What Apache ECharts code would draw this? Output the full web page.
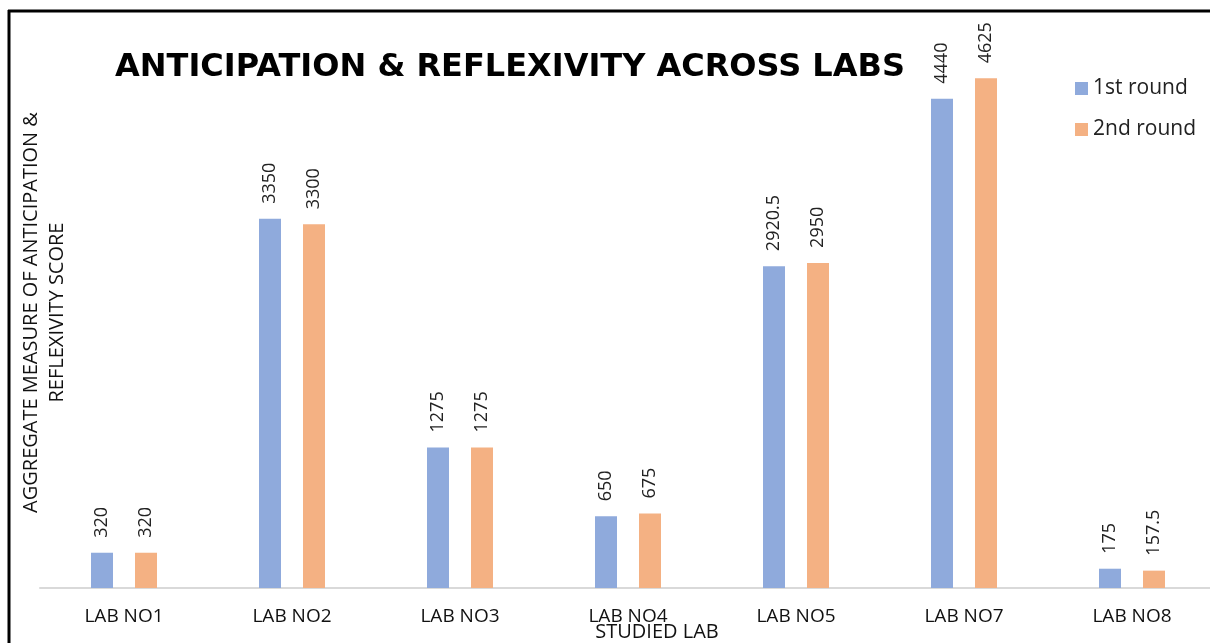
<!DOCTYPE html>
<html>
<head>
<meta charset="utf-8">
<script src="https://cdn.jsdelivr.net/npm/echarts@6/dist/echarts.min.js"></script>
<style>
  html, body { margin: 0; padding: 0; background: #fff; }
  #chart { width: 1210px; height: 643px; }
</style>
</head>
<body>
<div id="chart"></div>
<script>
  // data
  const labs = ['LAB NO1', 'LAB NO2', 'LAB NO3', 'LAB NO4', 'LAB NO5', 'LAB NO7', 'LAB NO8']
  const firstRound = [320, 3350, 1275, 650, 2920.5, 4440, 175]
  const secondRound = [320, 3300, 1275, 675, 2950, 4625, 157.5]
  const seriesNames = ['1st round', '2nd round']

  const font = '"Open Sans", "Noto Sans", sans-serif'
  const chart = echarts.init(document.getElementById('chart'))

  function barLabel () {
    return {
      show: true,
      position: 'top',
      rotate: 90,
      align: 'left',
      verticalAlign: 'middle',
      distance: 15,
      fontFamily: font,
      fontSize: 18,
      color: '#222'
    }
  }

  const option = {
    backgroundColor: '#fff',
    animation: false,
    title: {
      text: 'ANTICIPATION & REFLEXIVITY ACROSS LABS',
      left: 505,
      top: 47,
      textAlign: 'center',
      textStyle: {
        fontFamily: '"DejaVu Sans", sans-serif',
        fontWeight: 'bold',
        fontSize: 32,
        color: '#000'
      }
    },
    legend: {
      orient: 'vertical',
      left: 1070,
      top: 73,
      itemWidth: 13,
      itemHeight: 13,
      itemGap: 20,
      icon: 'rect',
      data: seriesNames,
      textStyle: { fontFamily: font, fontSize: 21, color: '#222' }
    },
    grid: { left: 40, top: 37, width: 1176, bottom: 55, outerBoundsMode: 'none', containLabel: false },
    xAxis: {
      type: 'category',
      data: labs,
      axisLine: { lineStyle: { color: '#d9d9d9', width: 2 } },
      axisTick: { show: false },
      axisLabel: { margin: 19, fontFamily: font, fontSize: 19, color: '#111' }
    },
    yAxis: {
      type: 'value',
      min: 0,
      max: 5000,
      name: 'AGGREGATE MEASURE OF ANTICIPATION &\nREFLEXIVITY SCORE',
      nameLocation: 'middle',
      nameRotate: 90,
      nameGap: -30,
      nameTextStyle: { fontFamily: font, fontSize: 20, color: '#111', lineHeight: 26 },
      axisLine: { show: false },
      axisTick: { show: false },
      axisLabel: { show: false },
      splitLine: { show: false }
    },
    series: [
      {
        name: seriesNames[0],
        type: 'bar',
        data: firstRound,
        barWidth: 22,
        barGap: '100%',
        itemStyle: { color: '#8FAADC' },
        label: barLabel()
      },
      {
        name: seriesNames[1],
        type: 'bar',
        data: secondRound,
        barWidth: 22,
        itemStyle: { color: '#F4B183' },
        label: barLabel()
      }
    ],
    graphic: [
      { type: 'line', shape: { x1: 8, y1: 11, x2: 1210, y2: 11 }, style: { stroke: '#000', lineWidth: 3 } },
      { type: 'line', shape: { x1: 9, y1: 10, x2: 9, y2: 643 }, style: { stroke: '#000', lineWidth: 3 } },
      // x axis title, sits under the LAB NO4 label as in the reference
      {
        type: 'text',
        x: 657,
        y: 632,
        style: {
          text: 'STUDIED LAB',
          fontFamily: font,
          fontSize: 20,
          fill: '#111',
          align: 'center',
          verticalAlign: 'middle'
        }
      }
    ]
  }

  chart.setOption(option)
</script>
</body>
</html>
